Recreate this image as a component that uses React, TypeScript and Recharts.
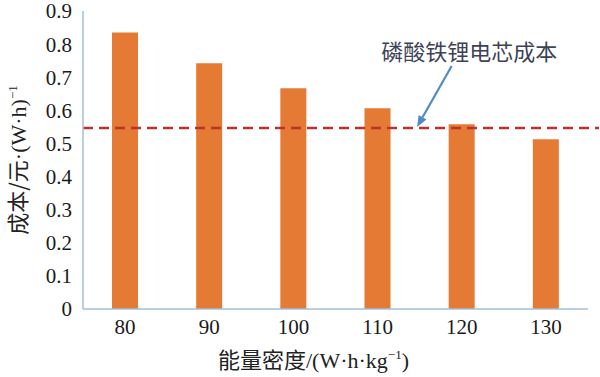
import React from 'react';
import { BarChart, Bar, XAxis, YAxis, ReferenceLine, ReferenceDot, Label } from 'recharts';

const categories = ['80', '90', '100', '110', '120', '130'];
const positions = [80, 90, 100, 110, 120, 130];
const costValues = [0.835, 0.742, 0.667, 0.606, 0.558, 0.513];
const lfpCost = 0.547;
const yTicks = [0, 0.1, 0.2, 0.3, 0.4, 0.5, 0.6, 0.7, 0.8, 0.9];
const annotationText = '磷酸铁锂电芯成本';
const arrowStart = { x: 118.8, y: 0.734 };
const arrowEnd = { x: 114.7, y: 0.55 };
const annotationPos = { x: 120.9, y: 0.776 };

const data = categories.map((c, i) => ({ category: c, pos: positions[i], cost: costValues[i] }));

const LATIN = 'Liberation Serif';
const CJK = 'Noto Sans CJK SC';
const BORDER = '#a3bfd5';
const BAR = '#e47a34';
const DASH = '#c0302e';
const ARROW = '#4f8cc4';

const DashShape = (props: any) => {
  const { x1, y1, x2, y2 } = props;
  return <line x1={x1} y1={y1} x2={x2 + 11} y2={y2} stroke={DASH} strokeWidth={2.5} strokeDasharray="10 6" />;
};

const ArrowShape = (props: any) => {
  const { x1, y1, x2, y2 } = props;
  const ang = Math.atan2(y2 - y1, x2 - x1);
  const L = 11;
  const W = 4.5;
  const bx = x2 - L * Math.cos(ang);
  const by = y2 - L * Math.sin(ang);
  const px = -Math.sin(ang) * W;
  const py = Math.cos(ang) * W;
  return (
    <g>
      <line x1={x1} y1={y1} x2={bx} y2={by} stroke={ARROW} strokeWidth={2.2} />
      <polygon points={`${x2},${y2} ${bx + px},${by + py} ${bx - px},${by - py}`} fill={ARROW} />
    </g>
  );
};

const YLabel = (props: any) => {
  const vb = props.viewBox;
  const cx = 26;
  const cy = vb.y + vb.height / 2;
  return (
    <text x={cx} y={cy} transform={`rotate(-90 ${cx} ${cy})`} textAnchor="middle" fontSize={22} fill="#222">
      <tspan fontFamily={CJK}>成本/元</tspan>
      <tspan fontFamily={LATIN}>·(W·h)</tspan>
      <tspan fontFamily={LATIN} fontSize={13} dy={-9}>−1</tspan>
    </text>
  );
};

const XLabel = (props: any) => {
  const vb = props.viewBox;
  const cx = vb.x + vb.width / 2 - 22;
  return (
    <text x={cx} y={368} textAnchor="middle" fontSize={22} fill="#222">
      <tspan fontFamily={CJK}>能量密度</tspan>
      <tspan fontFamily={LATIN}>/(W·h·kg</tspan>
      <tspan fontFamily={LATIN} fontSize={13} dy={-9}>−1</tspan>
      <tspan fontFamily={LATIN} dy={9}>)</tspan>
    </text>
  );
};

const AnnoLabel = (props: any) => {
  const vb = props.viewBox;
  return (
    <text x={vb.x} y={vb.y + 8} textAnchor="middle" fontFamily={CJK} fontSize={22} fill="#3d4257">
      {annotationText}
    </text>
  );
};

const tickStyle = { fontFamily: LATIN, fontSize: 21, fill: '#1a1a1a' };

export default function App() {
  return (
    <div style={{ position: 'absolute', left: 0, top: 0, background: '#fff' }}>
      <BarChart width={600} height={377} data={data} margin={{ top: 11, right: 12, bottom: 0, left: 0 }}>
        <XAxis
          dataKey="category"
          height={68}
          axisLine={{ stroke: BORDER, strokeWidth: 1.5 }}
          tickLine={false}
          tickSize={0}
          tickMargin={10}
          tick={tickStyle}
          interval={0}
        >
          <Label content={XLabel} />
        </XAxis>
        <XAxis xAxisId="top" dataKey="category" orientation="top" height={0} tick={false} tickLine={false} axisLine={{ stroke: BORDER, strokeWidth: 1.5 }} />
        <XAxis xAxisId="num" dataKey="pos" type="number" domain={[75, 135]} hide allowDataOverflow />
        <YAxis
          width={83}
          domain={[0, 0.9]}
          ticks={yTicks}
          interval={0}
          axisLine={{ stroke: BORDER, strokeWidth: 1.5 }}
          tickLine={false}
          tickSize={0}
          tickMargin={11}
          tick={tickStyle}
          tickFormatter={(v: number) => (v === 0 ? '0' : v.toFixed(1))}
        >
          <Label content={YLabel} />
        </YAxis>
        <YAxis yAxisId="right" orientation="right" width={0} domain={[0, 0.9]} tick={false} tickLine={false} axisLine={{ stroke: BORDER, strokeWidth: 1.5 }} />
        <Bar dataKey="cost" fill={BAR} barSize={26} isAnimationActive={false} />
        <ReferenceLine y={lfpCost} shape={DashShape} />
        <ReferenceLine
          xAxisId="num"
          segment={[arrowStart, arrowEnd]}
          shape={ArrowShape}
        />
        <ReferenceDot xAxisId="num" x={annotationPos.x} y={annotationPos.y} r={0} stroke="none" fill="none">
          <Label content={AnnoLabel} />
        </ReferenceDot>
      </BarChart>
    </div>
  );
}
